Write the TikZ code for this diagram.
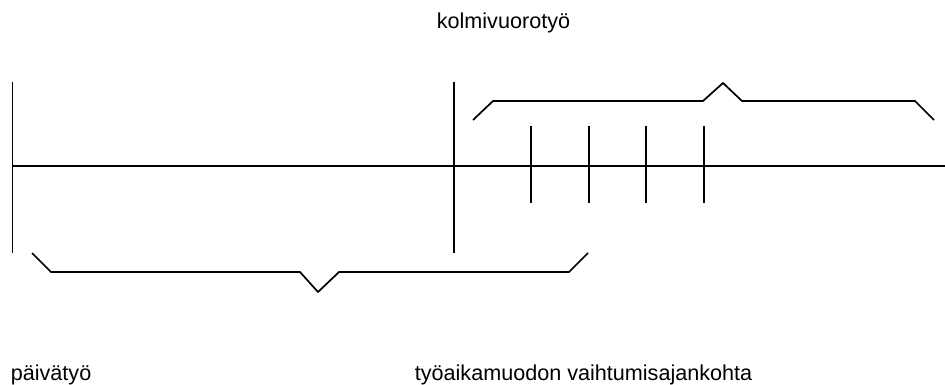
\documentclass[tikz,border=0pt]{standalone}
\usepackage{fontspec}
\setmainfont{Liberation Sans}
\usetikzlibrary{positioning}

\begin{document}
\begin{tikzpicture}[x=1pt, y=-1pt, line width=1.7pt]
\tikzstyle{timetext} = [inner sep=0pt, anchor=base west, font=\fontsize{21.6}{26}\selectfont]
\tikzstyle{brace} = [line join=miter]
\useasboundingbox (0,0) rectangle (945,385);
\node (kolmi) [timetext] at (436,29) {kolmivuorotyö};
\node (paiva) [timetext] at (10,380) {päivätyö};
\node (vaihto) [timetext] at (414,380) {työaikamuodon vaihtumisajankohta};
% time axis
\coordinate (axisstart) at (12,166);
\coordinate (axisend) at (945,166);
\draw (axisstart) -- (axisend);
% start and change of working time form
\coordinate (starttop) at (12.5,82);
\coordinate (startbot) at (12.5,253);
\coordinate (changetop) at (454,82);
\coordinate (changebot) at (454,253);
\draw (starttop) -- (startbot);
\draw (changetop) -- (changebot);
% shift changes
\foreach \x in {531,589,646,704}
  \draw (\x,126) -- (\x,203);
% braces
\draw [brace] (473,120) -- (493,101) -- (703,101) -- (723,83) -- (742,101) -- (915,101) -- (934,120);
\draw [brace] (32,253) -- (51,272) -- (300,272) -- (318,292) -- (339,272) -- (569,272) -- (588,253);
\end{tikzpicture}
\end{document}
